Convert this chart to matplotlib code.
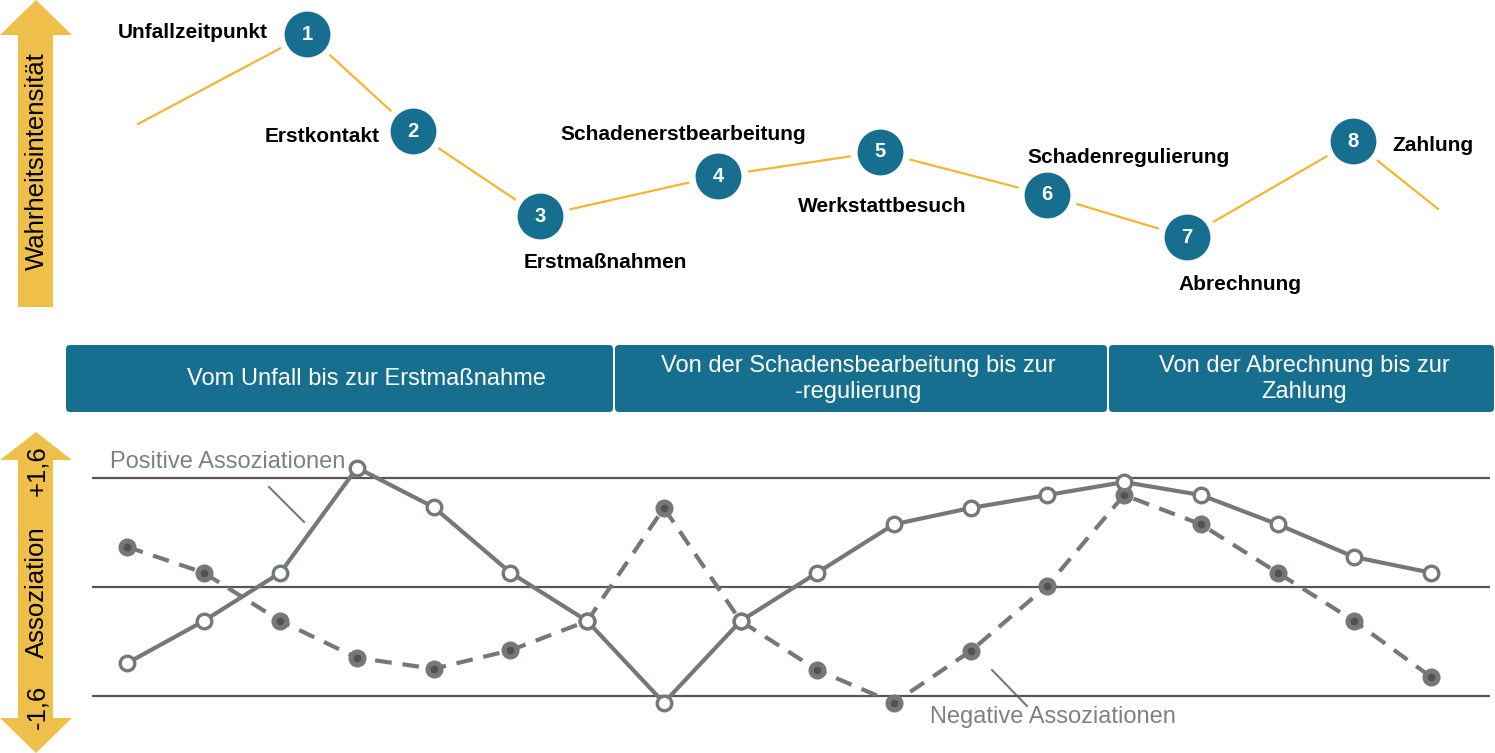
import matplotlib.pyplot as plt
from matplotlib.patches import Polygon, FancyBboxPatch
import numpy as np

plt.rcParams['font.family'] = ['Liberation Sans', 'DejaVu Sans']

# journey stages (top): position along the timeline and perceived intensity (0..10)
stage_names = ['Unfallzeitpunkt', 'Erstkontakt', 'Erstmaßnahmen', 'Schadenerstbearbeitung',
               'Werkstattbesuch', 'Schadenregulierung', 'Abrechnung', 'Zahlung']
stage_pos = [307, 413, 540, 718, 880, 1047, 1187, 1353]
stage_int = [8.90, 5.77, 3.03, 4.32, 5.10, 3.71, 2.35, 5.45]
line_start = (138, 6.00)
line_end = (1438, 3.26)

# phases
phase_names = ['Vom Unfall bis zur Erstmaßnahme',
               'Von der Schadensbearbeitung bis zur\n-regulierung',
               'Von der Abrechnung bis zur\nZahlung']

# associations (bottom), 18 measuring points
pos_assoc = [-1.12, -0.50, 0.21, 1.75, 1.17, 0.21, -0.50, -1.70, -0.50,
             0.21, 0.92, 1.16, 1.35, 1.54, 1.35, 0.92, 0.44, 0.21]
neg_assoc = [0.59, 0.21, -0.50, -1.04, -1.20, -0.93, -0.50, 1.16, -0.50,
             -1.22, -1.70, -0.94, 0.02, 1.35, 0.92, 0.21, -0.50, -1.32]

W, H = 1495, 753
yellow = '#EEC04A'
teal = '#176F8F'
gray = '#737977'
txtgray = '#7D8281'

fig = plt.figure(figsize=(W / 100, H / 100), dpi=100)

# background axes in pixel units
bg = fig.add_axes([0, 0, 1, 1])
bg.set_xlim(0, W)
bg.set_ylim(H, 0)
bg.axis('off')

# vertical arrows
bg.add_patch(Polygon([(18, 307), (53, 307), (53, 35), (72, 35), (36, 0), (0, 35), (18, 35)],
                     closed=True, fc=yellow, ec='none'))
bg.add_patch(Polygon([(36, 432), (72, 460), (53, 460), (53, 718), (72, 718), (36, 753),
                      (0, 718), (18, 718), (18, 460), (0, 460)],
                     closed=True, fc=yellow, ec='none'))
bg.text(37, 161, 'Wahrheitsintensität', rotation=90, ha='center', va='center', fontsize=18.5)
bg.text(37, 471, '+1,6', rotation=90, ha='center', va='center', fontsize=18.5)
bg.text(37, 592, 'Assoziation', rotation=90, ha='center', va='center', fontsize=18.5)
bg.text(37, 707, '-1,6', rotation=90, ha='center', va='center', fontsize=18.5)

# phase boxes
box_edges = [(66, 613), (615, 1107), (1109, 1494)]
text_cx = [366, 858, 1304]
for (x0, x1), cx, name in zip(box_edges, text_cx, phase_names):
    bg.add_patch(FancyBboxPatch((x0, 345), x1 - x0, 67,
                                boxstyle='round,pad=0,rounding_size=4',
                                fc=teal, ec='none'))
    bg.text(cx, 379, name, ha='center', va='center', color='white',
            fontsize=17, linespacing=1.22)

# stage labels
label_spots = [(268, 38, 'right'), (380, 142, 'right'), (605, 268, 'center'),
               (683, 140, 'center'), (882, 212, 'center'), (1129, 163, 'center'),
               (1240, 290, 'center'), (1392, 151, 'left')]
for (lx, ly, ha), name in zip(label_spots, stage_names):
    bg.text(lx, ly, name, ha=ha, va='baseline', fontsize=15, fontweight='bold')

# annotation labels with leader lines
bg.text(110, 462, 'Positive Assoziationen', ha='left', va='center', color=txtgray, fontsize=17)
bg.plot([269, 304], [487, 522], color=gray, lw=1.5)
bg.text(930, 717, 'Negative Assoziationen', ha='left', va='center', color=txtgray, fontsize=17)
bg.plot([992, 1027], [670, 706], color=gray, lw=1.5)

# top journey axes
top = fig.add_axes([0, 1 - 310 / H, 1, 310 / H])
top.set_xlim(0, W)
top.set_ylim(0, 10)
top.axis('off')
jx = [line_start[0]] + stage_pos + [line_end[0]]
jy = [line_start[1]] + stage_int + [line_end[1]]
top.plot(jx, jy, color='#F2B630', lw=1.6, zorder=1)
top.plot(stage_pos, stage_int, 'o', ms=38, mfc=teal, mec='white', mew=5, zorder=2)
for i, (sx, sy) in enumerate(zip(stage_pos, stage_int)):
    top.text(sx, sy, str(i + 1), ha='center', va='center', color='white',
             fontsize=14.5, fontweight='bold', zorder=3)

# bottom association axes
ax = fig.add_axes([92 / W, 0, 1398 / W, 333 / H])
ax.set_xlim(-0.456, 17.77)
ax.set_ylim(-2.437, 2.451)
ax.axis('off')
for yv in (1.6, 0, -1.6):
    ax.axhline(yv, color='#5E5550', lw=1.6, zorder=1)

xs = np.arange(len(pos_assoc))
ax.plot(xs, neg_assoc, color=gray, lw=3, dashes=(4, 2.6), zorder=2)
ax.plot(xs, neg_assoc, 'o', ms=12, mfc=gray, mec=gray, zorder=3)
ax.plot(xs, neg_assoc, 'o', ms=5.5, mfc='#5B4F4A', mec='none', zorder=4)
ax.plot(xs, pos_assoc, color=gray, lw=3, zorder=5)
ax.plot(xs, pos_assoc, 'o', ms=10.5, mfc='white', mec=gray, mew=2.4, zorder=6)

fig.savefig('out.png', dpi=100)
